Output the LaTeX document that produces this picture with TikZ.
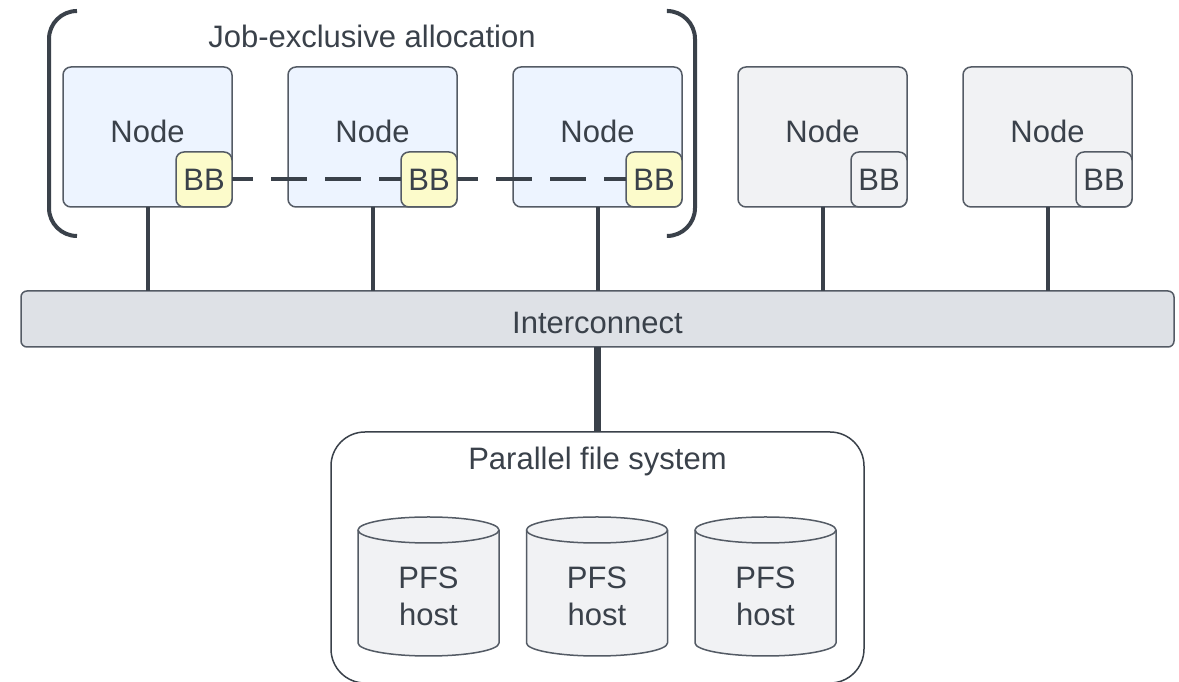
\documentclass[tikz,border=0pt]{standalone}
\usepackage{fontspec}
\setmainfont{Liberation Sans}

\definecolor{ink}{RGB}{58,65,74}
\definecolor{edge}{RGB}{84,91,101}
\definecolor{jobfill}{RGB}{237,244,255}
\definecolor{bbfill}{RGB}{252,251,203}
\definecolor{idlefill}{RGB}{241,242,244}
\definecolor{netfill}{RGB}{222,225,230}

\tikzset{
  every node/.style={font=\fontsize{31}{37}\selectfont, text=ink, inner sep=0pt, outer sep=0pt},
  hostbox/.style={draw=edge, line width=1.5pt, rounded corners=8pt,
    minimum width=169pt, minimum height=140pt},
  jobhost/.style={hostbox, fill=jobfill},
  idlehost/.style={hostbox, fill=idlefill},
  burst/.style={draw=edge, line width=1.5pt, rounded corners=8pt,
    minimum width=56pt, minimum height=55pt, anchor=south east},
  netbox/.style={draw=edge, line width=1.5pt, fill=netfill, rounded corners=6pt,
    minimum width=1153pt, minimum height=56pt},
  pfsbox/.style={draw=ink, line width=1.5pt, fill=white, rounded corners=34pt,
    minimum width=533pt, minimum height=251pt},
  link/.style={draw=ink, line width=4pt},
  trunk/.style={draw=ink, line width=7pt},
  dashlink/.style={draw=ink, line width=4pt, dash pattern=on 36pt off 18pt, dash phase=15pt},
  bracket/.style={draw=ink, line width=4pt, rounded corners=28pt},
  disk/.style={draw=edge, line width=1.5pt, fill=idlefill},
}

\begin{document}
\begin{tikzpicture}[x=1pt, y=1pt]
  \useasboundingbox (0,0) rectangle (1179,682);

  % compute nodes of the job allocation, each with its burst buffer
  \foreach \i/\x in {1/147.5, 2/372.5, 3/597.5} {
    \node[jobhost] (n\i) at (\x,545) {};
    \node at ([yshift=6pt]n\i.center) {Node};
    \node[burst, fill=bbfill] (b\i) at (n\i.south east) {BB};
  }
  % remaining compute nodes
  \foreach \i/\x in {4/822.5, 5/1047.5} {
    \node[idlehost] (n\i) at (\x,545) {};
    \node at ([yshift=6pt]n\i.center) {Node};
    \node[burst, fill=idlefill] (b\i) at (n\i.south east) {BB};
  }

  % bracket round the allocation
  \draw[bracket] (77,671) -| (49,446) -- (77,446);
  \draw[bracket] (668,671) -| (695,446) -- (668,446);
  \node at (372,646) {Job-exclusive allocation};

  % interconnect
  \node[netbox] (ic) at (597.5,363) {};
  \node at ([yshift=-4pt]ic.center) {Interconnect};
  \foreach \i in {1,...,5}
    \draw[link] (n\i.south) -- (n\i.south |- ic.north);

  % shared burst buffer among the allocated nodes
  \draw[dashlink] (b1.east) -- (b2.west);
  \draw[dashlink] (b2.east) -- (b3.west);

  % parallel file system
  \node[pfsbox] (pfs) at (597.5,124.5) {};
  \node at ([yshift=-29pt]pfs.north) {Parallel file system};
  \draw[trunk] (ic.south) -- (pfs.north);

  \foreach \i/\x in {1/428.5, 2/597, 3/765.5} {
    \filldraw[disk] (\x-70.5,152) -- (\x-70.5,39)
      arc[start angle=180, end angle=360, x radius=70.5, y radius=13]
      -- (\x+70.5,152)
      arc[start angle=0, end angle=180, x radius=70.5, y radius=13] -- cycle;
    \draw[disk] (\x-70.5,152)
      arc[start angle=180, end angle=360, x radius=70.5, y radius=13];
    \node[align=center] (d\i) at (\x,86) {PFS\\host};
  }
\end{tikzpicture}
\end{document}
